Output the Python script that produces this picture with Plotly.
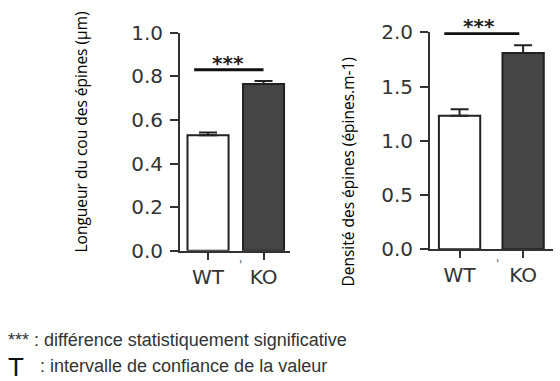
import plotly.graph_objects as go

# ---- data ----
groups = ["WT", "KO"]
neck_length = [0.53, 0.765]      # µm
neck_err = [0.012, 0.014]
spine_density = [1.23, 1.81]     # épines.m-1
density_err = [0.06, 0.07]
sig_level = [0.83, 1.99]         # y of significance bars
left_ticks = [0.0, 0.2, 0.4, 0.6, 0.8, 1.0]
right_ticks = [0.0, 0.5, 1.0, 1.5, 2.0]
left_title = "Longueur du cou des épines (µm)"
right_title = "Densité des épines (épines.m-1)"
note1 = "*** : différence statistiquement significative"
note2 = ": intervalle de confiance de la valeur"

W, H = 560, 381
AX = "#333333"
TXT = "#333333"
tickfont = dict(family="DejaVu Sans", size=20, color=TXT)
bar_colors = ["#ffffff", "#454545"]

fig = go.Figure()

def add_bars(x, y, err, xa, ya, width):
    fig.add_trace(go.Bar(
        x=x, y=y, xaxis=xa, yaxis=ya, width=width,
        marker=dict(color=bar_colors, line=dict(color="#222222", width=2)),
        error_y=dict(type="data", symmetric=False, array=err, arrayminus=[0] * len(err),
                     thickness=2, width=9, color="#222222"),
        showlegend=False, hoverinfo="skip"))

add_bars(groups, neck_length, neck_err, "x", "y", 0.74)
add_bars(groups, spine_density, density_err, "x2", "y2", 0.65)

common_x = dict(type="category", categoryorder="array", categoryarray=groups,
                showline=True, linecolor=AX, linewidth=2, ticks="outside",
                ticklen=7, tickwidth=2, tickcolor=AX, tickfont=tickfont,
                showgrid=False, zeroline=False, fixedrange=True, ticklabelstandoff=0,
                automargin=False)
common_y = dict(showline=True, linecolor=AX, linewidth=2, ticks="outside",
                ticklen=8, tickwidth=2, tickcolor=AX, tickfont=tickfont,
                showgrid=False, zeroline=False, tickformat=".1f", fixedrange=True,
                ticklabelstandoff=3, automargin=False)

fig.update_layout(
    template="none",
    width=W, height=H, margin=dict(l=0, r=0, t=0, b=0, pad=0, autoexpand=False),
    paper_bgcolor="white", plot_bgcolor="white",
    xaxis=dict(common_x, domain=[180 / W, 290 / W], range=[-0.505, 1.477], anchor="y"),
    yaxis=dict(common_y, domain=[1 - 250.7 / H, 1 - 32.7 / H], range=[0, 1.0],
               tickvals=left_ticks, anchor="x"),
    xaxis2=dict(common_x, domain=[430 / W, 553 / W], range=[-0.465, 1.47], anchor="y2"),
    yaxis2=dict(common_y, domain=[1 - 249.3 / H, 1 - 32.3 / H], range=[0, 2.0],
                tickvals=right_ticks, anchor="x2"),
)

# significance bars and stars
fig.add_shape(type="line", xref="x", yref="y", x0=-0.25, x1=1.0,
              y0=sig_level[0], y1=sig_level[0], line=dict(color="#111111", width=3))
fig.add_shape(type="line", xref="x2", yref="y2", x0=-0.24, x1=0.94,
              y0=sig_level[1], y1=sig_level[1], line=dict(color="#111111", width=3))
star_font = dict(family="DejaVu Sans", size=20, color="#222222", weight="bold")
fig.add_annotation(x=0.36, y=sig_level[0], xref="x", yref="y", text="***",
                   showarrow=False, xanchor="center", yanchor="bottom", yshift=-7,
                   font=star_font)
fig.add_annotation(x=0.3, y=sig_level[1], xref="x2", yref="y2", text="***",
                   showarrow=False, xanchor="center", yanchor="bottom", yshift=-7,
                   font=star_font)

# small stray marks between labels
mark_font = dict(family="DejaVu Sans", size=12, color="#666666")
fig.add_annotation(x=240 / W, y=1 - 265 / H, xref="paper", yref="paper", text="'",
                   showarrow=False, xanchor="center", yanchor="middle", font=mark_font)
fig.add_annotation(x=497 / W, y=1 - 264 / H, xref="paper", yref="paper", text="'",
                   showarrow=False, xanchor="center", yanchor="middle", font=mark_font)

# axis titles
title_font = dict(family="Open Sans", size=15.5, color="#000000")
fig.add_annotation(x=80 / W, y=1 - 132.5 / H, xref="paper", yref="paper", text=left_title,
                   textangle=-90, showarrow=False, xanchor="center", yanchor="middle",
                   font=title_font)
fig.add_annotation(x=347 / W, y=1 - 172.5 / H, xref="paper", yref="paper", text=right_title,
                   textangle=-90, showarrow=False, xanchor="center", yanchor="middle",
                   font=title_font)

# notes
note_font = dict(family="Liberation Sans", size=18, color="#333333")
fig.add_annotation(x=6 / W, y=1 - 340 / H, xref="paper", yref="paper", text=note1,
                   xanchor="left", yanchor="middle", showarrow=False, font=note_font)
fig.add_annotation(x=6 / W, y=1 - 367 / H, xref="paper", yref="paper", text="T",
                   xanchor="left", yanchor="middle", showarrow=False,
                   font=dict(family="Liberation Sans", size=26, color="#111111"))
fig.add_annotation(x=38 / W, y=1 - 366 / H, xref="paper", yref="paper", text=note2,
                   xanchor="left", yanchor="middle", showarrow=False, font=note_font)

fig.write_html("out.html", config={"displayModeBar": False},
               post_script="document.body.style.margin='0px';"
                           "document.body.style.overflow='hidden';")
